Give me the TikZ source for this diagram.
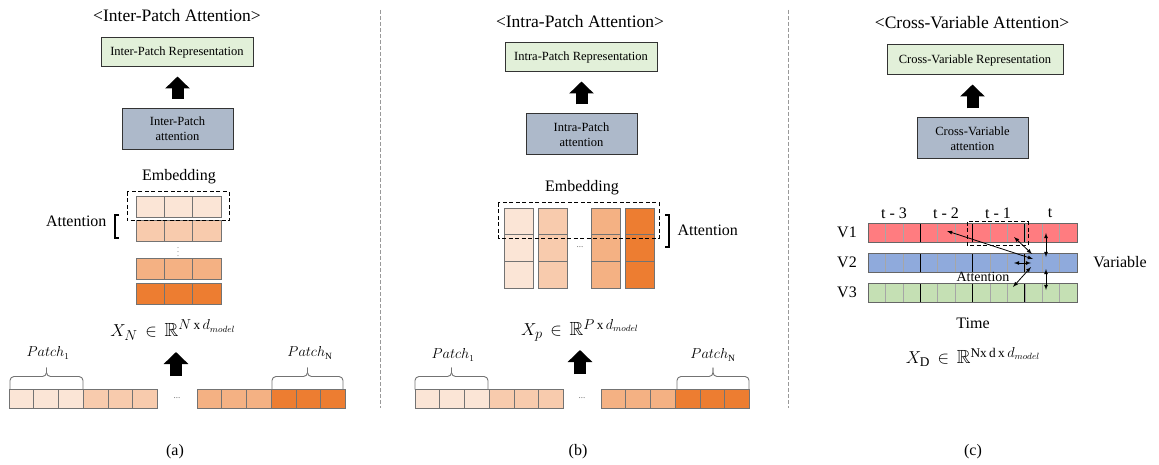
\documentclass[tikz,border=0pt]{standalone}
\usepackage{fontspec}
\setmainfont{Liberation Serif}
\usepackage{amsmath}
\usepackage{amssymb}
\usetikzlibrary{arrows.meta}
\usetikzlibrary{positioning}
\tikzset{>=latex}

\definecolor{orA}{HTML}{FBE5D6}
\definecolor{orB}{HTML}{F8CBAD}
\definecolor{orC}{HTML}{F4B183}
\definecolor{orD}{HTML}{ED7D31}
\definecolor{repgreen}{HTML}{E2F0D9}
\definecolor{attblue}{HTML}{ADB9CA}
\definecolor{vred}{HTML}{FF7C80}
\definecolor{vblue}{HTML}{8FAADC}
\definecolor{vgreen}{HTML}{C5E0B4}

\tikzstyle{title} = [font=\fontsize{17.5}{20}\selectfont]
\tikzstyle{repbox} = [rectangle, draw=black!80, line width=1pt, fill=repgreen, minimum width=152pt, minimum height=29pt, font=\fontsize{12.5}{14}\selectfont]
\tikzstyle{attbox} = [rectangle, draw=black!80, line width=1pt, fill=attblue, minimum width=111pt, minimum height=41pt, align=center, font=\fontsize{12.5}{15}\selectfont]
\tikzstyle{lbl} = [font=\fontsize{16}{19}\selectfont]
\tikzstyle{formula} = [font=\fontsize{19}{22}\selectfont]
\tikzstyle{patch} = [font=\fontsize{13.5}{16}\selectfont]
\tikzstyle{bigup} = [-{Triangle[length=12pt,width=24pt]}, line width=12pt, shorten <=9pt, shorten >=9pt]
\tikzstyle{cell} = [draw=black!55, line width=0.6pt]
\tikzstyle{sep} = [draw=black!40, line width=1pt, dash pattern=on 4pt off 2pt]
\tikzstyle{attn} = [<->, line width=0.8pt]
\tikzstyle{brc} = [draw=black!55, line width=0.9pt, rounded corners=4pt]
\tikzstyle{dashbox} = [line width=1pt, dash pattern=on 4pt off 2.5pt]

% brace over three patch cells: x1, x2, bottom y
\newcommand{\patchbrace}[3]{%
  \draw[brc] (#1,#3) -- (#1,#3-13) -- ({(#1+#2)/2},#3-13) -- ({(#1+#2)/2},#3-22);
  \draw[brc] (#2,#3) -- (#2,#3-13) -- ({(#1+#2)/2},#3-13) -- ({(#1+#2)/2},#3-22);
}

\begin{document}
\begin{tikzpicture}[x=1pt, y=-1pt]
\useasboundingbox (0,0) rectangle (1159,465);

% separators
\draw[sep] (380,10) -- (380,408);
\draw[sep] (788,10) -- (788,408);

% (a) inter-patch
\node[title] (titleA) at (177,16) {<Inter-Patch Attention>};
\node[repbox] (repA) at (177,52.5) {Inter-Patch Representation};
\node[attbox] (attA) at (177.5,129) {Inter-Patch\\attention};
\draw[bigup] (attA.north) -- (attA.north |- repA.south);
\node[lbl] (embA) at (179,177) {Embedding};
\foreach \y/\c in {196/orA, 220/orB, 258/orC, 283/orD}
  \foreach \i in {0,1,2}
    \draw[cell, fill=\c] (136+\i*28.33,\y) rectangle ++(28.33,21.5);
\node[text=black!60] (vdotsA) at (178,249) {\fontsize{8}{9}\selectfont$\vdots$};
\draw[dashbox] (127,192) rectangle (229,221);
\node[lbl, anchor=east] (attnA) at (110,221) {Attention};
\draw[line width=1.3pt] (119,215) -- (115,215) -- (115,238) -- (119,238);
\node[formula] (formA) at (173,330) {$X_N \,\in\, \mathbb{R}^{N\,\mathrm{x}\,d_{model}}$};

% (b) intra-patch
\node[title] (titleB) at (580,22) {<Intra-Patch Attention>};
\node[repbox] (repB) at (581,57.5) {Intra-Patch Representation};
\node[attbox] (attB) at (581.5,134.5) {Intra-Patch\\attention};
\draw[bigup] (attB.north) -- (attB.north |- repB.south);
\node[lbl] (embB) at (582,188) {Embedding};
\foreach \x/\c in {504/orA, 538/orB, 591/orC, 625/orD}
  \foreach \j in {0,1,2}
    \draw[cell, fill=\c] (\x,208+\j*26.67) rectangle ++(29.5,26.67);
\node[text=black!60] (dotsColB) at (580,247) {\fontsize{9}{10}\selectfont...};
\draw[dashbox] (498,203) rectangle (659,238);
\draw[line width=1.3pt] (665,215) -- (669,215) -- (669,247) -- (665,247);
\node[lbl, anchor=west] (attnB) at (674,230) {Attention};
\node[formula] (formB) at (580,330) {$X_p \,\in\, \mathbb{R}^{P\,\mathrm{x}\,d_{model}}$};

% patch strips of (a) and (b)
\foreach \x/\ca/\cb in {9/orA/orB, 197/orC/orD, 415/orA/orB, 601/orC/orD}
  \foreach \s/\c in {0/\ca, 1/\cb}
    \foreach \i in {0,1,2}
      \draw[cell, fill=\c] (\x+\s*74.25+\i*24.75,389.5) rectangle ++(24.75,19);
\node[text=black!60] (dotsA) at (177,398) {\fontsize{9}{10}\selectfont...};
\node[text=black!60] (dotsB) at (582,398) {\fontsize{9}{10}\selectfont...};
\patchbrace{10}{83}{389.5}
\patchbrace{272}{343}{389.5}
\patchbrace{415}{488}{389.5}
\patchbrace{677}{749}{389.5}
\node[patch] (p1A) at (48,353) {$Patch_1$};
\node[patch] (pNA) at (310,353) {$Patch_{\mathrm{N}}$};
\node[patch] (p1B) at (453,355) {$Patch_1$};
\node[patch] (pNB) at (713,355) {$Patch_{\mathrm{N}}$};
\coordinate (inA) at (176,376);
\coordinate (outA) at (176,352);
\coordinate (inB) at (580,374);
\coordinate (outB) at (580,350);
\draw[bigup, shorten <=0pt, shorten >=0pt] (inA) -- (outA);
\draw[bigup, shorten <=0pt, shorten >=0pt] (inB) -- (outB);

% (c) cross-variable
\node[title] (titleC) at (972,23) {<Cross-Variable Attention>};
\node[repbox, minimum width=176pt, minimum height=30pt] (repC) at (975,60) {Cross-Variable Representation};
\node[attbox] (attC) at (972.5,138.5) {Cross-Variable\\attention};
\draw[bigup] (attC.north) -- (attC.north |- repC.south);
\foreach \t/\x in {t - 3/894, t - 2/946, t - 1/998, t/1050}
  \node[lbl] at (\x,213) {\t};
\foreach \r/\c/\v in {223/vred/V1, 253/vblue/V2, 283/vgreen/V3} {
  \foreach \i in {0,...,11}
    \draw[draw=black!35, line width=0.5pt, fill=\c] (868+\i*17.42,\r) rectangle ++(17.42,19);
  \foreach \g in {1,2,3}
    \draw[line width=0.7pt] (868+\g*52.25,\r) -- ++(0,19);
  \draw[draw=black!60, line width=0.7pt] (868,\r) rectangle ++(209,19);
  \node[lbl] at (847,\r+9.5) {\v};
}
\draw[dashbox] (967,222) rectangle (1028,245);
\node[lbl] (varC) at (1120,262) {Variable};
\node[font=\fontsize{14}{16}\selectfont] (attnC) at (983,277) {Attention};
\node[lbl] (timeC) at (973,323) {Time};
\node[formula] (formC) at (973,357) {$X_{\mathrm{D}} \,\in\, \mathbb{R}^{\mathrm{Nx\,d\,x}\,d_{model}}$};
\coordinate (a1) at (947,231);
\coordinate (b1) at (1033,259);
\coordinate (a2) at (1014,237);
\coordinate (b2) at (1032,254);
\coordinate (a3) at (1014,263);
\coordinate (b3) at (1031,263);
\coordinate (a4) at (1013,287);
\coordinate (b4) at (1031,267);
\coordinate (a5) at (1046,233);
\coordinate (b5) at (1046,257);
\coordinate (a6) at (1046,269);
\coordinate (b6) at (1046,290);
\foreach \k in {1,...,6}
  \draw[attn] (a\k) -- (b\k);

% captions
\node[lbl] (capA) at (175,452) {(a)};
\node[lbl] (capB) at (578,452) {(b)};
\node[lbl] (capC) at (973,452) {(c)};
\end{tikzpicture}
\end{document}
